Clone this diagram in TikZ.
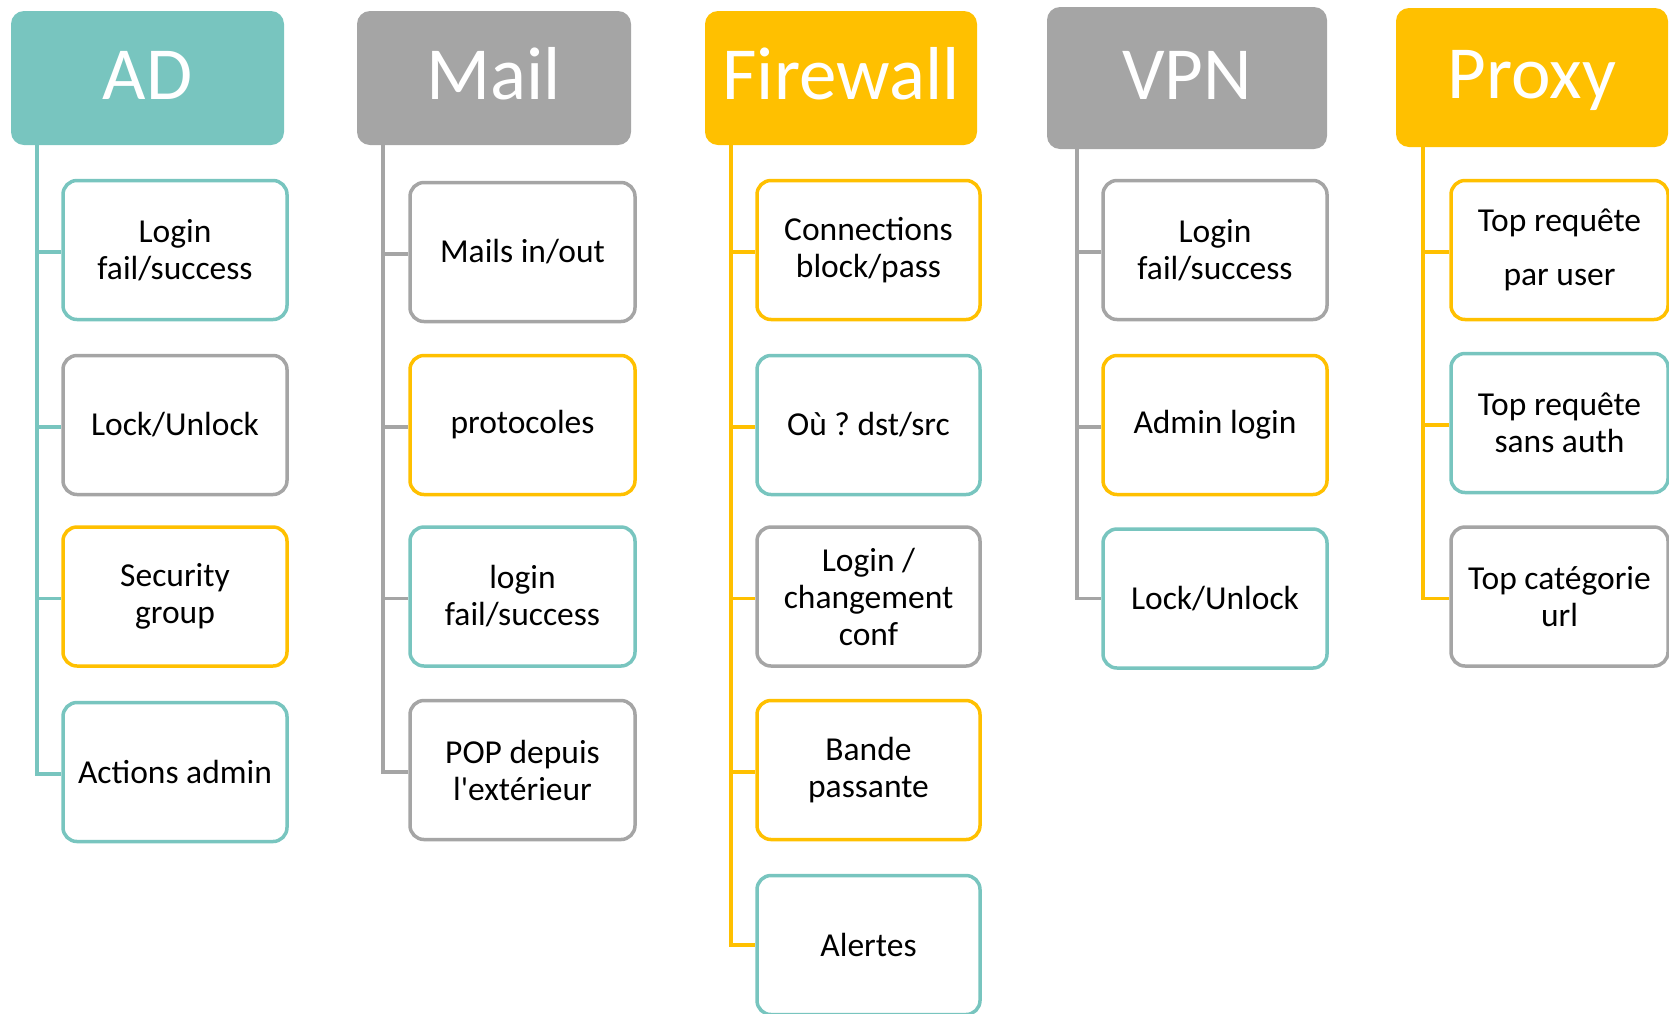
\documentclass[tikz,border=0pt]{standalone}
\usepackage{fontspec}
\setmainfont{Carlito}
\newfontfamily\qfont{Carlito}
\definecolor{cteal}{RGB}{120,197,191}
\definecolor{cgray}{RGB}{165,165,165}
\definecolor{cgold}{RGB}{255,192,0}
\frenchspacing
\begin{document}
\begin{tikzpicture}[x=1pt,y=-1pt,
  head/.style={rounded corners=13pt, inner sep=0pt, text=white,
    font=\fontsize{75}{90}\selectfont, text height=49pt, text depth=7pt},
  item/.style={draw=#1, line width=3.5pt, rounded corners=14pt, fill=white,
    inner sep=0pt, minimum width=224pt, minimum height=139pt, align=center,
    font=\fontsize{33.5}{37}\selectfont},
  conn/.style={line width=3.2pt, draw=#1}]
\useasboundingbox (0,0) rectangle (1669,1013);

% headers
\node[head, fill=cteal, minimum width=273pt, minimum height=134pt] (ad) at (147.5,78) {AD};
\node[head, fill=cgray, minimum width=274pt, minimum height=134pt] (mail) at (494,78) {Mail};
\node[head, fill=cgold, minimum width=272pt, minimum height=134pt] (fw) at (841,78) {Firewall};
\node[head, fill=cgray, minimum width=280pt, minimum height=142pt] (vpn) at (1187,78) {VPN};
\node[head, fill=cgold, minimum width=272pt, minimum height=139pt] (px) at (1532,77.5) {Proxy};

% AD
\node[item=cteal] (ad1) at (175,250) {Login\\fail/success};
\node[item=cgray] (ad2) at (175,425) {Lock/Unlock};
\node[item=cgold] (ad3) at (175,596.5) {Security\\group};
\node[item=cteal] (ad4) at (175,772) {Actions admin};
% Mail
\node[item=cgray, minimum width=225pt] (m1) at (522.5,252) {Mails in/out};
\node[item=cgold, minimum width=225pt] (m2) at (522.5,425) {protocoles};
\node[item=cteal, minimum width=225pt] (m3) at (522.5,596.5) {login\\fail/success};
\node[item=cgray, minimum width=225pt] (m4) at (522.5,770) {POP depuis\\l{\qfont'}extérieur};
% Firewall
\node[item=cgold, minimum width=223pt] (f1) at (868.5,250) {Connections\\block/pass};
\node[item=cteal, minimum width=223pt] (f2) at (868.5,425) {Où ? dst/src};
\node[item=cgray, minimum width=223pt] (f3) at (868.5,596.5) {Login /\\changement\\conf};
\node[item=cgold, minimum width=223pt] (f4) at (868.5,770) {Bande\\passante};
\node[item=cteal, minimum width=223pt] (f5) at (868.5,945) {Alertes};
% VPN
\node[item=cgray] (v1) at (1215,250) {Login\\fail/success};
\node[item=cgold] (v2) at (1215,425) {Admin login};
\node[item=cteal] (v3) at (1215,598.5) {Lock/Unlock};
% Proxy
\node[item=cgold, minimum width=217pt, font=\fontsize{33.5}{54}\selectfont] (p1) at (1559.5,250) {Top requête\\par user};
\node[item=cteal, minimum width=217pt] (p2) at (1559.5,423) {Top requête\\sans auth};
\node[item=cgray, minimum width=217pt] (p3) at (1559.5,596.5) {Top catégorie\\url};

% trunk start points
\coordinate (adl) at (37,145);
\coordinate (ml) at (383,145);
\coordinate (fl) at (731,145);
\coordinate (vl) at (1077,149);
\coordinate (pl) at (1423,147);

% connectors
\draw[conn=cteal] (adl) |- ([yshift=-2pt]ad4.west);
\foreach \n in {ad1,ad2,ad3} \draw[conn=cteal] ([yshift=-2pt]\n.west -| adl) -- ([yshift=-2pt]\n.west);
\draw[conn=cgray] (ml) |- ([yshift=-2pt]m4.west);
\foreach \n in {m1,m2,m3} \draw[conn=cgray] ([yshift=-2pt]\n.west -| ml) -- ([yshift=-2pt]\n.west);
\draw[conn=cgold] (fl) |- (f5.west);
\foreach \n in {f1,f2,f3,f4} \draw[conn=cgold] ([yshift=-2pt]\n.west -| fl) -- ([yshift=-2pt]\n.west);
\draw[conn=cgray] (vl) |- (v3.west);
\foreach \n in {v1,v2} \draw[conn=cgray] ([yshift=-2pt]\n.west -| vl) -- ([yshift=-2pt]\n.west);
\draw[conn=cgold] (pl) |- ([yshift=-2pt]p3.west);
\foreach \n in {p1,p2} \draw[conn=cgold] ([yshift=-2pt]\n.west -| pl) -- ([yshift=-2pt]\n.west);
\end{tikzpicture}
\end{document}
